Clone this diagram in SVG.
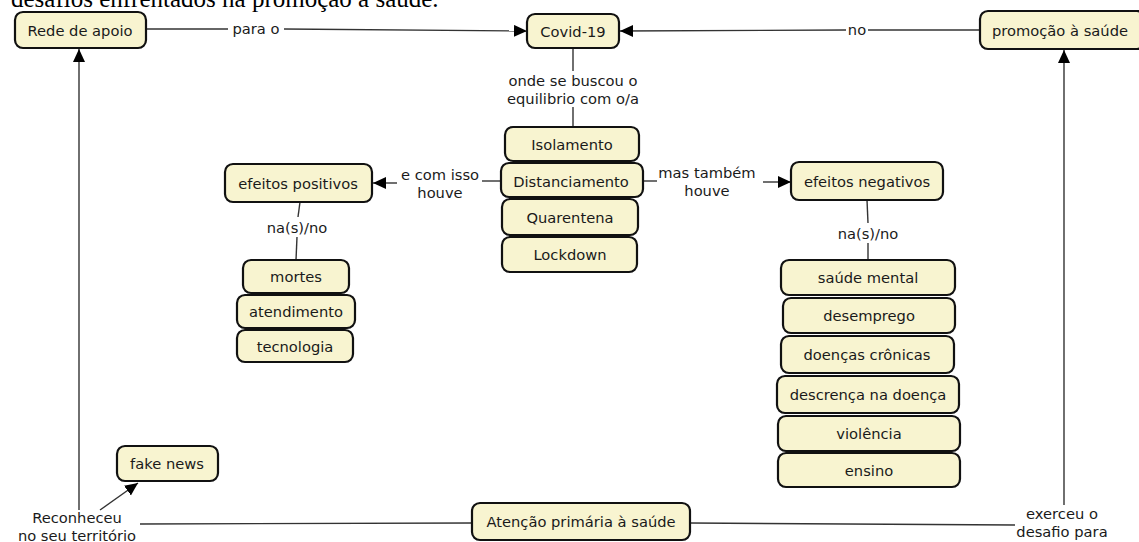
<svg xmlns="http://www.w3.org/2000/svg" width="1139" height="542" viewBox="0 0 1139 542">
<style>
.box{fill:#f8f4d0;stroke:#111;stroke-width:2.2}
.t{font-family:"DejaVu Sans",Verdana,sans-serif;font-size:14.7px;fill:#1a1a1a;text-anchor:middle;dominant-baseline:central}
.c{stroke:#333;stroke-width:1.4;fill:none}
.title{font-family:"Liberation Serif","Times New Roman",serif;font-size:25px;fill:#000}
</style>
<defs>
<marker id="arr" markerUnits="userSpaceOnUse" markerWidth="14" markerHeight="13" refX="13" refY="6" orient="auto">
<path d="M0,0 L13,6 L0,12 z" fill="#000"/>
</marker>
</defs>
<rect width="1139" height="542" fill="#fff"/>
<text class="title" x="11" y="7">desafios enfrentados na promoção à saúde.</text>

<g id="connectors">
<line class="c" x1="146" y1="29" x2="228" y2="29"/>
<text class="t" x="256" y="28">para o</text>
<line class="c" x1="284" y1="29" x2="527" y2="31" marker-end="url(#arr)"/>

<line class="c" x1="980" y1="30" x2="868" y2="30"/>
<text class="t" x="857" y="29">no</text>
<line class="c" x1="846" y1="30" x2="620" y2="31" marker-end="url(#arr)"/>

<line class="c" x1="573" y1="48" x2="573" y2="71"/>
<text class="t" x="573" y="80">onde se buscou o</text>
<text class="t" x="573" y="98">equilibrio com o/a</text>
<line class="c" x1="573" y1="107" x2="573" y2="127"/>

<line class="c" x1="500" y1="181" x2="482" y2="181"/>
<text class="t" x="440" y="174">e com isso</text>
<text class="t" x="440" y="192">houve</text>
<line class="c" x1="397" y1="183" x2="373" y2="183" marker-end="url(#arr)"/>

<line class="c" x1="643" y1="181" x2="657" y2="181"/>
<text class="t" x="707" y="172">mas também</text>
<text class="t" x="707" y="190">houve</text>
<line class="c" x1="763" y1="182" x2="791" y2="182" marker-end="url(#arr)"/>

<line class="c" x1="300" y1="202" x2="298" y2="217"/>
<text class="t" x="297" y="227">na(s)/no</text>
<line class="c" x1="297" y1="237" x2="296" y2="260"/>

<line class="c" x1="867" y1="200" x2="868" y2="223"/>
<text class="t" x="868" y="233">na(s)/no</text>
<line class="c" x1="868" y1="243" x2="868" y2="260"/>

<line class="c" x1="472" y1="523" x2="140" y2="524"/>
<line class="c" x1="79" y1="510" x2="79" y2="49" marker-end="url(#arr)"/>
<line class="c" x1="100" y1="510" x2="138" y2="483" marker-end="url(#arr)"/>
<text class="t" x="77" y="517">Reconheceu</text>
<text class="t" x="77" y="535">no seu território</text>

<line class="c" x1="690" y1="523" x2="1015" y2="525"/>
<line class="c" x1="1064" y1="505" x2="1064" y2="50" marker-end="url(#arr)"/>
<text class="t" x="1062" y="513">exerceu o</text>
<text class="t" x="1062" y="531">desafio para</text>
</g>

<g id="rede"><rect class="box" x="15" y="12" width="131" height="36" rx="8"/><text class="t" x="80" y="30">Rede de apoio</text></g>
<g id="covid"><rect class="box" x="527" y="14" width="92" height="34" rx="8"/><text class="t" x="573" y="31">Covid-19</text></g>
<g id="promocao"><rect class="box" x="980" y="11" width="165" height="38" rx="8"/><text class="t" x="1060" y="30">promoção à saúde</text></g>

<g id="isolamento"><rect class="box" x="505" y="127" width="134" height="34" rx="8"/><text class="t" x="572" y="144">Isolamento</text></g>
<g id="distanciamento"><rect class="box" x="501" y="163" width="142" height="34" rx="8"/><text class="t" x="571" y="181">Distanciamento</text></g>
<g id="quarentena"><rect class="box" x="502" y="199" width="136" height="36" rx="8"/><text class="t" x="570" y="217">Quarentena</text></g>
<g id="lockdown"><rect class="box" x="502" y="237" width="135" height="35" rx="8"/><text class="t" x="570" y="254">Lockdown</text></g>

<g id="efeitos-positivos"><rect class="box" x="225" y="164" width="147" height="38" rx="8"/><text class="t" x="298" y="183">efeitos positivos</text></g>
<g id="efeitos-negativos"><rect class="box" x="791" y="162" width="152" height="38" rx="8"/><text class="t" x="867" y="181">efeitos negativos</text></g>

<g id="mortes"><rect class="box" x="243" y="260" width="106" height="33" rx="8"/><text class="t" x="296" y="276">mortes</text></g>
<g id="atendimento"><rect class="box" x="237" y="295" width="118" height="33" rx="8"/><text class="t" x="296" y="311">atendimento</text></g>
<g id="tecnologia"><rect class="box" x="237" y="330" width="116" height="32" rx="8"/><text class="t" x="295" y="346">tecnologia</text></g>

<g id="saude-mental"><rect class="box" x="781" y="260" width="174" height="35" rx="8"/><text class="t" x="868" y="277">saúde mental</text></g>
<g id="desemprego"><rect class="box" x="783" y="298" width="172" height="35" rx="8"/><text class="t" x="869" y="315">desemprego</text></g>
<g id="doencas-cronicas"><rect class="box" x="781" y="336" width="173" height="37" rx="8"/><text class="t" x="867" y="354">doenças crônicas</text></g>
<g id="descrenca"><rect class="box" x="777" y="376" width="182" height="37" rx="8"/><text class="t" x="868" y="394">descrença na doença</text></g>
<g id="violencia"><rect class="box" x="778" y="416" width="182" height="35" rx="8"/><text class="t" x="869" y="433">violência</text></g>
<g id="ensino"><rect class="box" x="778" y="453" width="182" height="34" rx="8"/><text class="t" x="869" y="470">ensino</text></g>

<g id="fake-news"><rect class="box" x="117" y="446" width="101" height="35" rx="8"/><text class="t" x="167" y="463">fake news</text></g>
<g id="atencao"><rect class="box" x="472" y="503" width="218" height="37" rx="8"/><text class="t" x="581" y="521">Atenção primária à saúde</text></g>
</svg>
